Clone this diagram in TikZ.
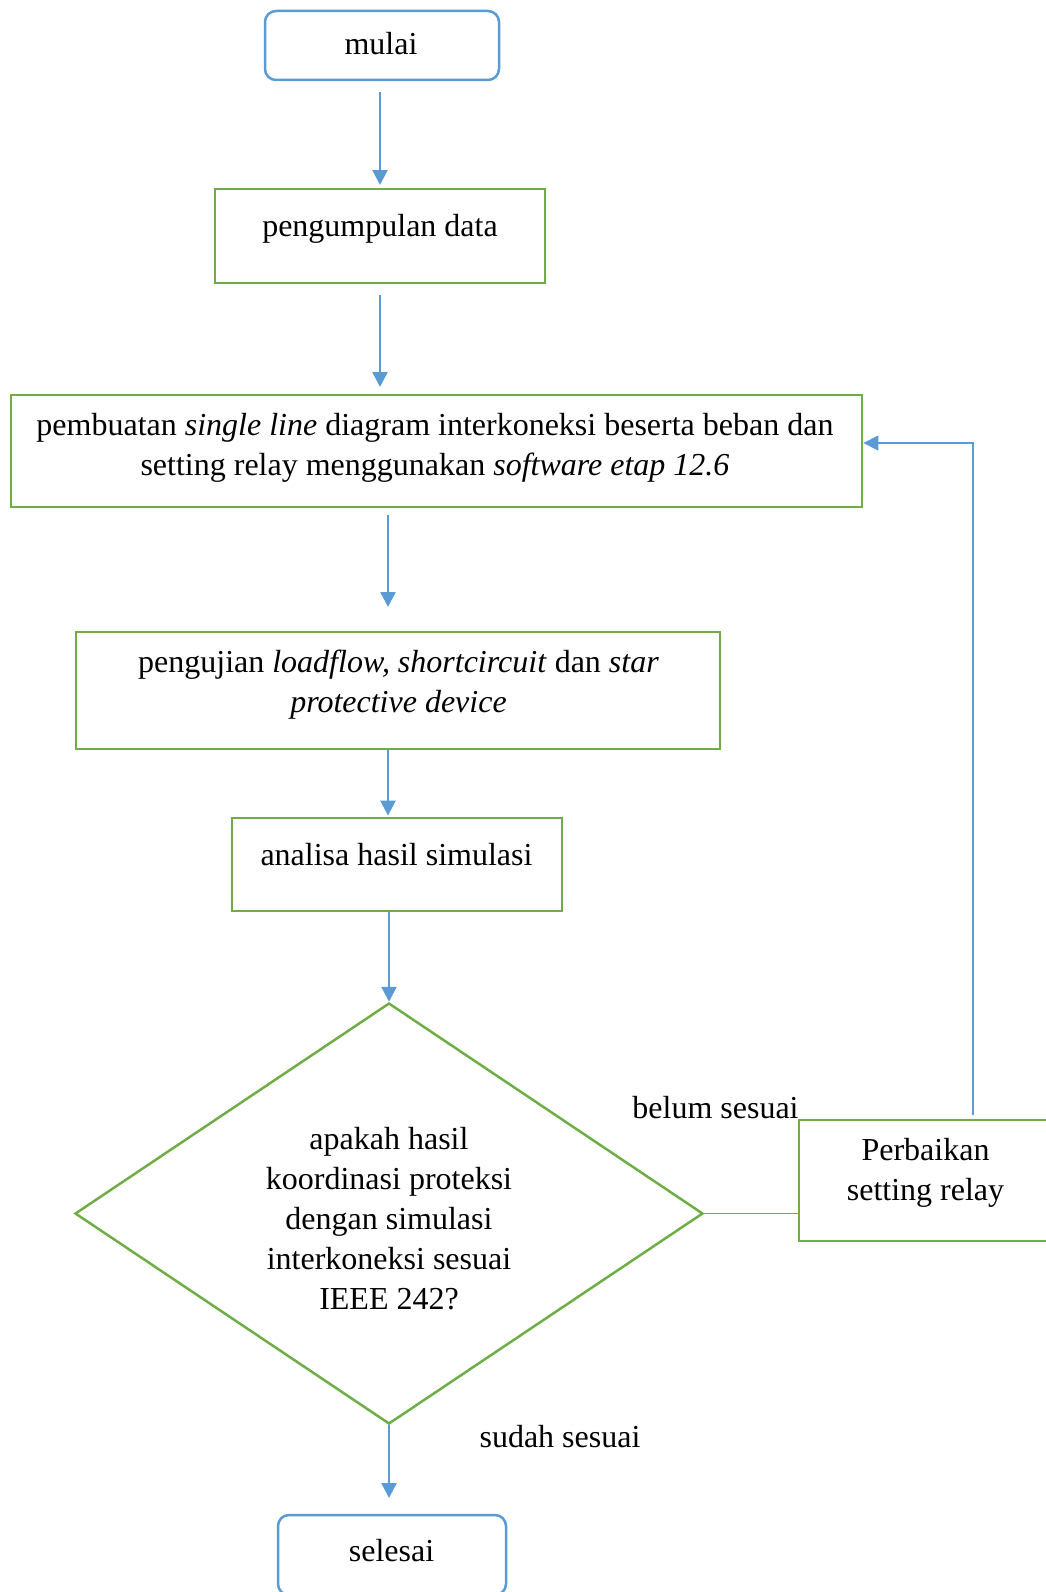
\documentclass[tikz,border=0pt]{standalone}
\usepackage{fontspec}
\setmainfont{Liberation Serif}
\usetikzlibrary{arrows.meta,shapes.geometric,calc}
\definecolor{fblue}{RGB}{91,155,213}
\definecolor{fgreen}{RGB}{112,173,71}
\tikzset{
  termbox/.style={draw=fblue, line width=2.5pt, rounded corners=11pt, inner sep=0pt},
  procbox/.style={draw=fgreen, line width=2.8pt, inner sep=0pt},
  decbox/.style={draw=fgreen, line width=2.5pt, diamond, inner sep=0pt, minimum width=628pt, minimum height=421pt},
  txt/.style={align=center, inner sep=0pt, font=\fontsize{32}{40}\selectfont},
  arr/.style={draw=fblue, line width=2.5pt, -{Triangle[length=15pt,width=15pt]}},
  thin/.style={draw=fblue, line width=1.4pt},
  thinarr/.style={draw=fblue, line width=1.4pt, -{Triangle[length=15pt,width=15pt]}}
}
\begin{document}
\begin{tikzpicture}[x=1pt,y=-1pt]
\useasboundingbox (0,0) rectangle (1046,1592);
\clip (0,0) rectangle (1046,1592);
% boxes
\node[termbox, minimum width=234pt, minimum height=69pt] (start) at (382,45.5) {};
\node[procbox, minimum width=330pt, minimum height=94pt] (data) at (380,236) {};
\node[procbox, minimum width=851pt, minimum height=112pt] (slb) at (436.5,451) {};
\node[procbox, minimum width=644pt, minimum height=117pt] (uji) at (398,690.5) {};
\node[procbox, minimum width=330pt, minimum height=93pt] (ana) at (397,864.5) {};
\node[decbox] (dec) at (389,1213.5) {};
\node[procbox, minimum width=253pt, minimum height=121pt] (fix) at (925.5,1180.5) {};
\node[termbox, minimum width=228pt, minimum height=80pt] (end) at (392,1555) {};
% texts
\node[txt] (tstart) at (381,44) {mulai};
\node[txt] (tdata) at (380,229) {pengumpulan data};
\node[txt] (tslb) at (435,448) {pembuatan \textit{single line} diagram interkoneksi beserta beban dan\\setting relay menggunakan \textit{software etap 12.6}};
\node[txt] (tuji) at (398.5,685) {pengujian \textit{loadflow, shortcircuit} dan \textit{star}\\\textit{protective device}};
\node[txt] (tana) at (396.5,855) {analisa hasil simulasi};
\node[txt] (tdec) at (389,1219) {apakah hasil\\koordinasi proteksi\\dengan simulasi\\interkoneksi sesuai\\IEEE 242?};
\node[txt] (tfix) at (925.5,1173) {Perbaikan\\setting relay};
\node[txt] (tend) at (391.5,1551) {selesai};
\node[txt] (tno) at (715.5,1108) {belum sesuai};
\node[txt] (tyes) at (560,1437) {sudah sesuai};
% connectors
\coordinate (a1s) at (380,92);
\coordinate (a1e) at (380,185);
\draw[arr] (a1s) -- (a1e);
\coordinate (a2s) at (380,295);
\coordinate (a2e) at (380,387);
\draw[arr] (a2s) -- (a2e);
\coordinate (a3s) at (388,515);
\coordinate (a3e) at (388,607);
\draw[arr] (a3s) -- (a3e);
\draw[arr] (uji.south -| a3s) -- ($(ana.north -| a3s)+(0,-1)$);
\coordinate (a5s) at (389,911);
\draw[arr] (a5s) -- (dec.north);
\coordinate (a6e) at (389,1498);
\draw[arr] (dec.south) -- (a6e);
\draw[thin] (dec.east) -- (dec.east -| fix.west);
\coordinate (fbb) at (973,1115);
\coordinate (fbt) at (973,443);
\draw[thinarr] (fbb) -- (fbt) -- (fbt -| slb.east);
\end{tikzpicture}
\end{document}
